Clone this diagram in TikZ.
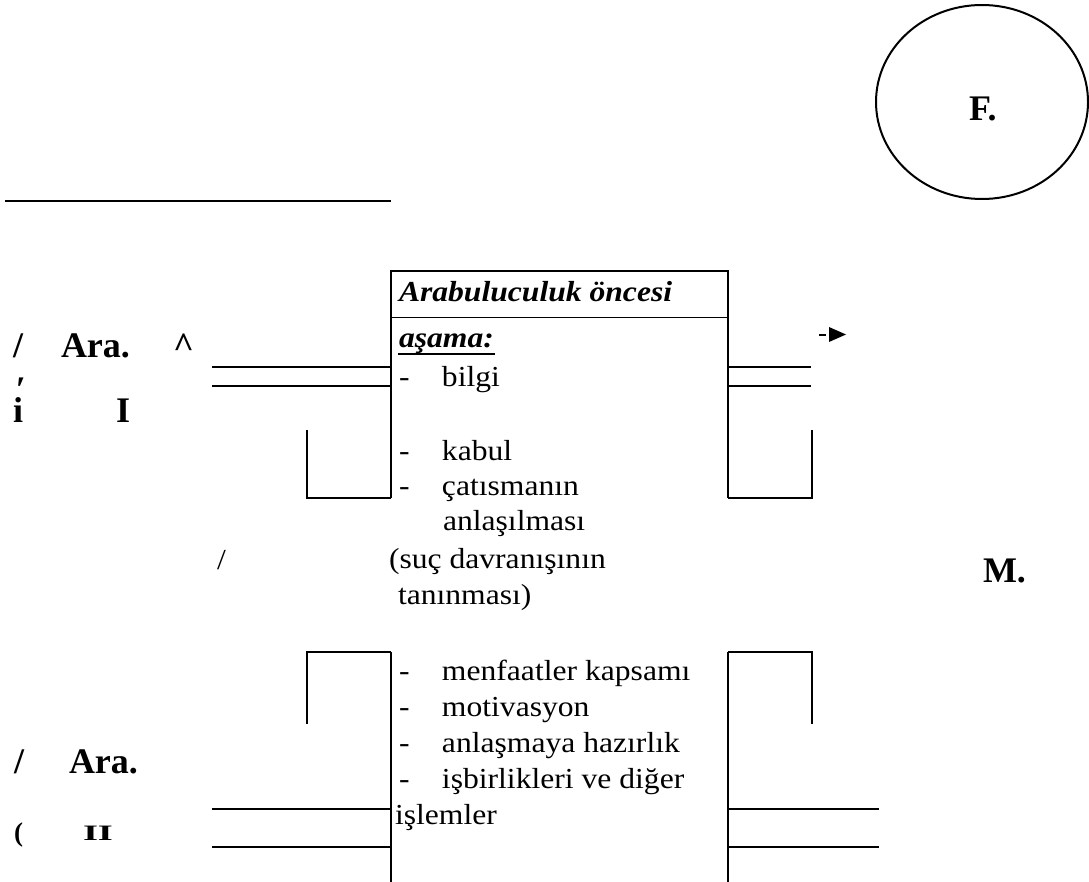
\documentclass[tikz,border=0pt]{standalone}
\usepackage{fontspec}
\setmainfont{Liberation Serif}
\newfontfamily\bodyfont[FakeStretch=1.09]{Liberation Serif}
\usetikzlibrary{shapes.geometric}
\begin{document}
\begin{tikzpicture}[x=1pt,y=-1pt,line width=2pt,
  txt/.style={anchor=base west,inner sep=0pt,font=\bodyfont\fontsize{29}{34}\selectfont},
  lbl/.style={anchor=base west,inner sep=0pt,font=\fontsize{36}{42}\selectfont\bfseries},
  small/.style={anchor=base west,inner sep=0pt,font=\fontsize{22}{26}\selectfont\bfseries},
  thin/.style={line width=1pt}]
\useasboundingbox (0,0) rectangle (1089,882);
% top line
\coordinate (t1) at (5,201); \coordinate (t2) at (391,201);
\draw (t1) -- (t2);
% circle
\node[draw,ellipse,minimum width=212pt,minimum height=194pt,inner sep=0pt] (circ) at (982,102) {};
\node[lbl] (F) at (968,121) {F.};
% box
\coordinate (btl) at (391,271); \coordinate (btr) at (728,271);
\coordinate (bdl) at (391,318); \coordinate (bdr) at (728,318);
\coordinate (bl1) at (391,498); \coordinate (br1) at (728,498);
\coordinate (bl2) at (391,652); \coordinate (br2) at (728,652);
\coordinate (bl3) at (391,882); \coordinate (br3) at (728,882);
\draw (bl1) -- (btl) -- (btr) -- (br1);
\draw[thin] (bdl) -- (bdr);
\draw (bl2) -- (bl3);
\draw (br2) -- (br3);
% upper left connectors
\coordinate (ul1) at (212,367); \coordinate (ul1e) at (391,367);
\coordinate (ul2) at (212,386); \coordinate (ul2e) at (391,386);
\draw (ul1) -- (ul1e); \draw (ul2) -- (ul2e);
\coordinate (ulb) at (307,430); \coordinate (ulc) at (307,498);
\draw (ulb) -- (ulc) -- (bl1);
% upper right connectors
\coordinate (ur1) at (811,367); \coordinate (ur1s) at (728,367);
\coordinate (ur2) at (811,386); \coordinate (ur2s) at (728,386);
\draw (ur1s) -- (ur1); \draw (ur2s) -- (ur2);
\coordinate (urb) at (812,430); \coordinate (urc) at (812,498);
\draw (urb) -- (urc) -- (br1);
% lower left
\coordinate (llb) at (307,724); \coordinate (llc) at (307,652);
\draw (llb) -- (llc) -- (bl2);
\coordinate (ll1) at (212,809); \coordinate (ll1e) at (391,809);
\coordinate (ll2) at (212,847); \coordinate (ll2e) at (391,847);
\draw (ll1) -- (ll1e); \draw (ll2) -- (ll2e);
% lower right
\coordinate (lrb) at (812,724); \coordinate (lrc) at (812,652);
\draw (br2) -- (lrc) -- (lrb);
\coordinate (lr1) at (879,809); \coordinate (lr1s) at (728,809);
\coordinate (lr2) at (879,847); \coordinate (lr2s) at (728,847);
\draw (lr1s) -- (lr1); \draw (lr2s) -- (lr2);
% arrow glyph
\coordinate (ad1) at (819,335); \coordinate (ad2) at (826,335);
\draw (ad1) -- (ad2);
\fill (829,327) -- (846,334.5) -- (829,342) -- cycle;
% box texts
\node[txt] (h1) at (398,302) {\bfseries\itshape Arabuluculuk öncesi};
\node[txt] (h2) at (398,348) {\bfseries\itshape aşama:};
\draw[line width=1.5pt] ([yshift=-6pt]h2.base west) -- ([yshift=-6pt]h2.base east);
\node[txt] (i1) at (398,386) {\makebox[43pt][l]{-}bilgi};
\node[txt] (i2) at (398,460) {\makebox[43pt][l]{-}kabul};
\node[txt] (i3) at (398,495) {\makebox[43pt][l]{-}çatısmanın};
\node[txt] (i3b) at (442,530) {anlaşılması};
\node[txt] (i4) at (388,568) {(suç davranışının};
\node[txt] (i4b) at (397,604) {tanınması)};
\node[txt] (j1) at (398,680) {\makebox[43pt][l]{-}menfaatler kapsamı};
\node[txt] (j2) at (398,716) {\makebox[43pt][l]{-}motivasyon};
\node[txt] (j3) at (398,752) {\makebox[43pt][l]{-}anlaşmaya hazırlık};
\node[txt] (j4) at (398,788) {\makebox[43pt][l]{-}işbirlikleri ve diğer};
\node[txt] (j5) at (394,824) {işlemler};
% side labels
\node[lbl] (s1) at (12,357) {/};
\node[lbl] (a1) at (60,357) {Ara.};
\node[lbl] (c1) at (172,357) {\^{}};
\node[anchor=north west,inner sep=0pt,font=\fontsize{36}{42}\selectfont\bfseries] (p1) at (15,375) {\raisebox{-0.45em}[0.25em][0pt]{′}};
\node[lbl] (i1l) at (12,422) {i};
\node[lbl] (I1) at (115,422) {I};
\node[txt] (sl) at (216,569) {/};
\node[lbl] (M) at (982,582) {M.};
\node[lbl] (s2) at (13,773) {/};
\node[lbl] (a2) at (68,773) {Ara.};
\node[small,font=\fontsize{27}{30}\selectfont\bfseries] (pp) at (13,841) {(};
\node[small] (II) at (82,840) {\scalebox{1.75}[1]{II}};
\end{tikzpicture}
\end{document}
